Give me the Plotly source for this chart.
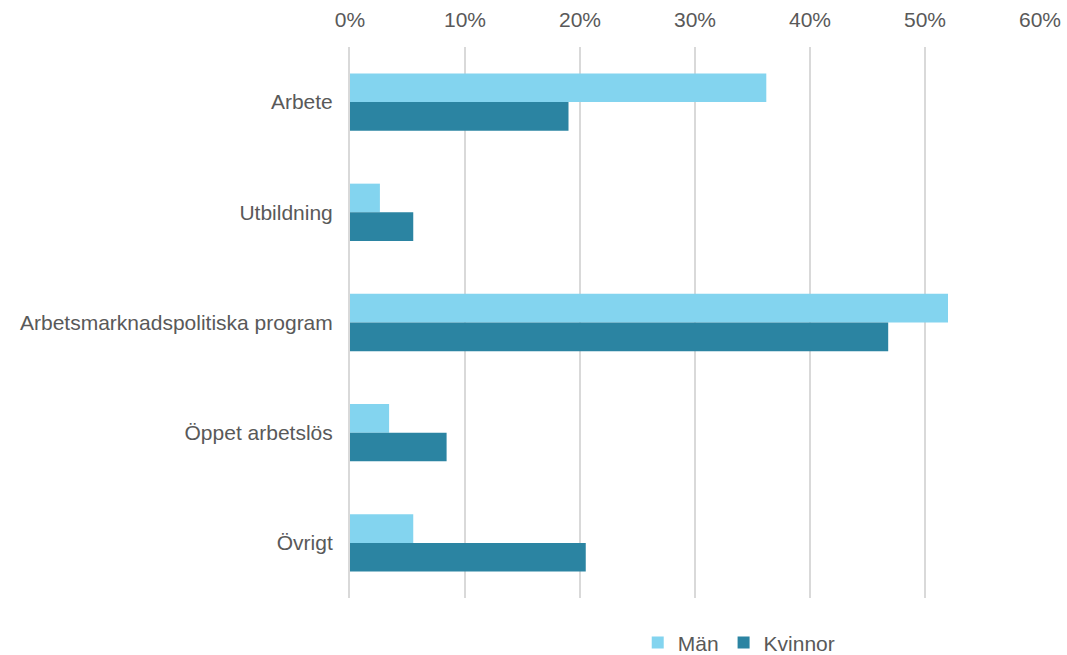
import plotly.graph_objects as go

categories = ["Arbete", "Utbildning", "Arbetsmarknadspolitiska program", "Öppet arbetslös", "Övrigt"]
man = [0.362, 0.026, 0.520, 0.034, 0.055]
kvinnor = [0.190, 0.055, 0.468, 0.084, 0.205]
tick_vals = [0, 0.1, 0.2, 0.3, 0.4, 0.5, 0.6]
tick_text = ["0%", "10%", "20%", "30%", "40%", "50%", "60%"]

fig = go.Figure()
fig.add_trace(go.Bar(name="Män", y=categories, x=man, orientation="h",
                     marker=dict(color="#83D4EF", line=dict(width=0))))
fig.add_trace(go.Bar(name="Kvinnor", y=categories, x=kvinnor, orientation="h",
                     marker=dict(color="#2B84A2", line=dict(width=0))))

fig.update_layout(
    width=1067, height=655,
    barmode="group", bargap=0.48, bargroupgap=0,
    plot_bgcolor="white", paper_bgcolor="white",
    margin=dict(l=350, r=27, t=47, b=57, autoexpand=False),
    font=dict(family="Liberation Sans, Arial, sans-serif", size=21, color="#595959"),
    xaxis=dict(side="top", range=[0, 0.6], tickvals=tick_vals, ticktext=tick_text,
               showgrid=True, gridcolor="#D9D9D9", gridwidth=2, automargin=False,
               zeroline=False, showline=False, ticks="", ticklabelstandoff=15),
    yaxis=dict(categoryorder="array", categoryarray=categories, autorange="reversed",
               showgrid=False, zeroline=False, showline=True, linecolor="#D9D9D9", linewidth=2,
               ticks="", ticklabelstandoff=11, automargin=False),
    legend=dict(orientation="h", x=0.417, y=-0.044, xanchor="left", yanchor="top",
                font=dict(size=21, color="#595959"), itemwidth=30),
    showlegend=True,
)
fig.write_html("out.html", config={"displayModeBar": False},
               post_script="document.body.style.margin='0';")
